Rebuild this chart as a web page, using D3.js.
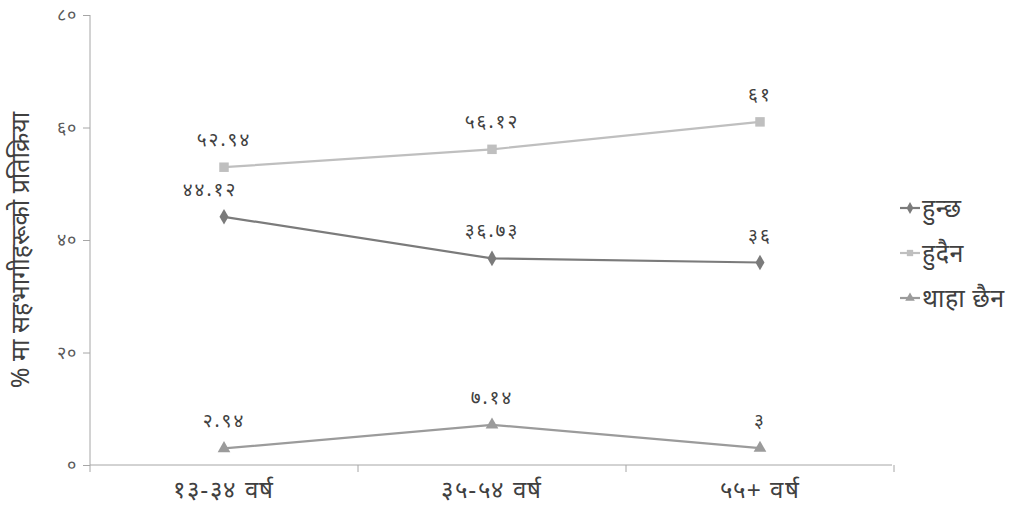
<!DOCTYPE html>
<html><head><meta charset="utf-8">
<script src="https://cdn.jsdelivr.net/npm/d3@7"></script>
<style>body{margin:0;background:#fff}svg{display:block;font-family:"Noto Sans","Noto Sans Devanagari",sans-serif}</style>
</head><body><svg id="c" width="1022" height="513"></svg>
<script>
const categories = ["१३-३४ वर्ष", "३५-५४ वर्ष", "५५+ वर्ष"];
const seriesNames = ["हुन्छ", "हुदैन", "थाहा छैन"];
const huncha = [44.12, 36.73, 36];
const hudaina = [52.94, 56.12, 61];
const thahaChaina = [2.94, 7.14, 3];
const yTicks = [0, 20, 40, 60, 80];
const yTitle = "% मा सहभागीहरूको प्रतिक्रिया";

const series = [
  {name: seriesNames[0], values: huncha, color: "#7b7b7b", shape: d3.symbolDiamond},
  {name: seriesNames[1], values: hudaina, color: "#bfbfbf", shape: d3.symbolSquare},
  {name: seriesNames[2], values: thahaChaina, color: "#9b9b9b", shape: d3.symbolTriangle}
];
const dev = "०१२३४५६७८९";
const toDev = v => String(v).replace(/[0-9]/g, d => dev[+d]);

const svg = d3.select("#c");
const x = d3.scaleBand().domain(categories).range([90, 894]).padding(0);
const y = d3.scaleLinear().domain([0, 80]).range([465, 15]);
const axisColor = "#a6a6a6", textColor = "#404040";

// Y axis
const ya = svg.append("g").attr("transform", "translate(90,0)")
  .call(d3.axisLeft(y).tickValues(yTicks).tickSize(7).tickPadding(6).tickFormat(toDev));
ya.select(".domain").attr("stroke", axisColor).attr("d", "M0,15V472");
ya.selectAll(".tick line").attr("stroke", axisColor);
ya.selectAll(".tick text").attr("fill", "#5a5a5a").style("font-size", "18px").style("letter-spacing", "1px");

// X axis
const xa = svg.append("g").attr("transform", "translate(0,465)")
  .call(d3.axisBottom(x).tickSize(0).tickPadding(16));
xa.select(".domain").attr("stroke", axisColor).attr("d", "M90,0H892");
xa.selectAll(".tick text").attr("fill", textColor).style("font-size", "24px").style("letter-spacing", "1.5px");
const bounds = categories.map(c => x(c)).concat([x(categories[2]) + x.bandwidth()]);
xa.selectAll(".bt").data(bounds.slice(1)).join("line").attr("class", "bt")
  .attr("x1", d => d).attr("x2", d => d).attr("y1", 0).attr("y2", 7).attr("stroke", axisColor);

// Y title
svg.append("text").attr("transform", "translate(29,250) rotate(-90)")
  .attr("text-anchor", "middle").attr("fill", textColor).style("font-size", "25px").text(yTitle);

const cx = c => x(c) + x.bandwidth() / 2;
const line = d3.line().x((d, i) => cx(categories[i])).y(d => y(d));

series.forEach(s => {
  svg.append("path").datum(s.values).attr("d", line).attr("fill", "none")
    .attr("stroke", s.color).attr("stroke-width", 2.2);
  svg.selectAll(null).data(s.values).join("path")
    .attr("transform", (d, i) => `translate(${cx(categories[i])},${y(d)})`)
    .attr("d", d3.symbol().type(s.shape).size(s.shape === d3.symbolSquare ? 90 : 70))
    .attr("fill", s.color);
  svg.selectAll(null).data(s.values).join("text")
    .attr("x", (d, i) => cx(categories[i]) - (i === 0 && s.name === seriesNames[0] ? 14 : 0))
    .attr("y", d => y(d) - 21)
    .attr("text-anchor", "middle").attr("fill", textColor).style("font-size", "19px")
    .style("letter-spacing", "2px")
    .text(d => toDev(d));
});

// Legend
const lg = svg.append("g");
series.forEach((s, i) => {
  const ly = 208 + i * 45;
  lg.append("line").attr("x1", 900).attr("x2", 920).attr("y1", ly).attr("y2", ly)
    .attr("stroke", s.color).attr("stroke-width", 2.2);
  lg.append("path").attr("transform", `translate(910,${ly})`)
    .attr("d", d3.symbol().type(s.shape).size(40)).attr("fill", s.color);
  lg.append("text").attr("x", 922).attr("y", ly).attr("dy", "0.35em")
    .attr("fill", textColor).style("font-size", "25px").style("letter-spacing", "0.5px").text(s.name);
});
</script></body></html>
